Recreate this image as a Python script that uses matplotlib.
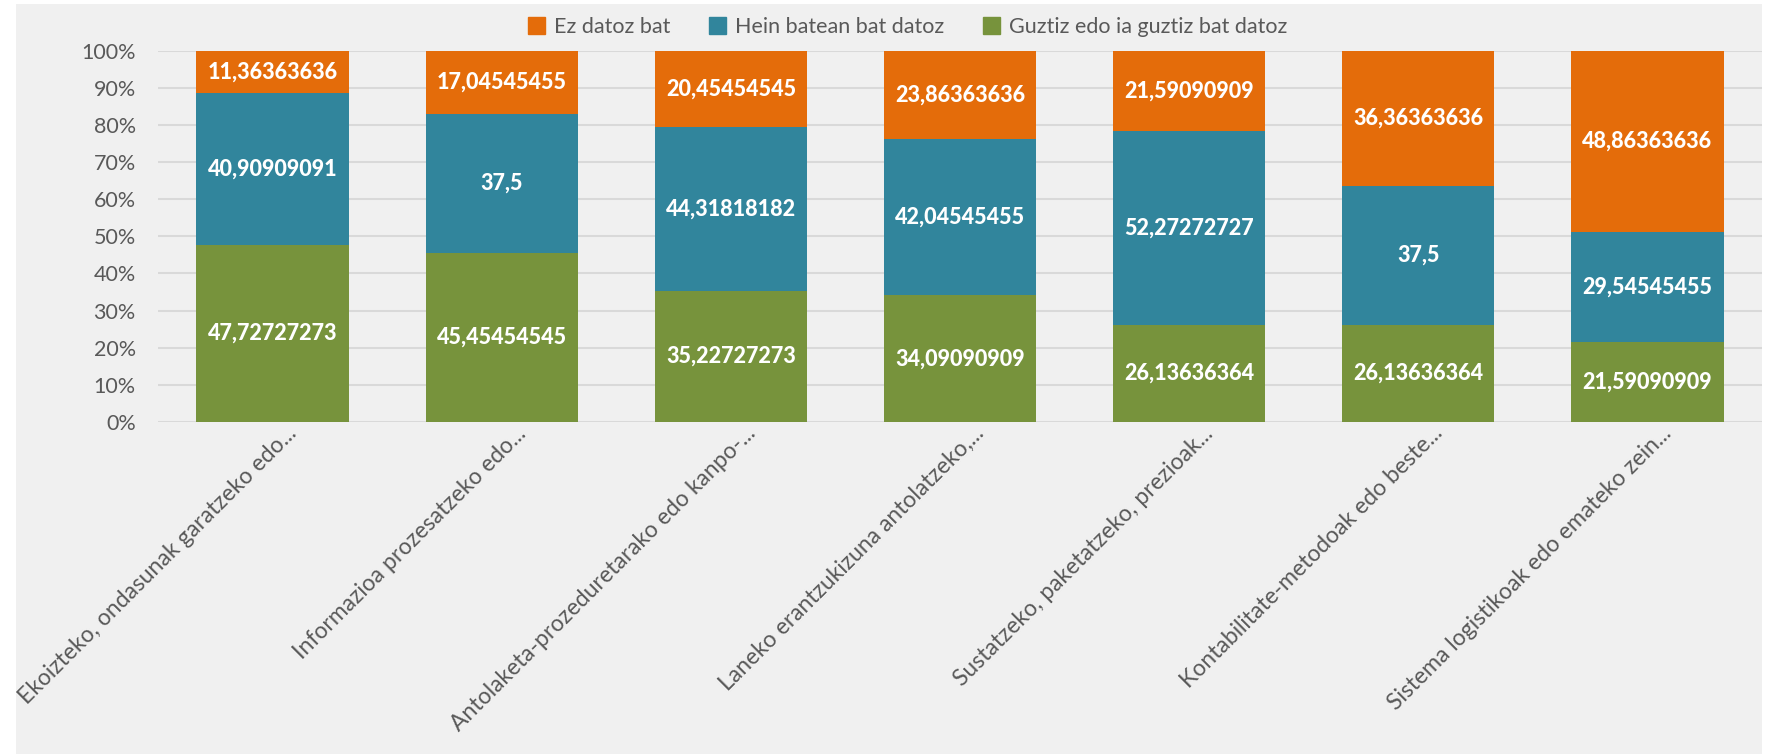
import matplotlib
matplotlib.use("Agg")
import matplotlib.pyplot as plt
from matplotlib.patches import Rectangle, Patch
from matplotlib.transforms import ScaledTranslation
import numpy as np

categories = [
    "Ekoizteko, ondasunak garatzeko edo...",
    "Informazioa prozesatzeko edo...",
    "Antolaketa-prozeduretarako edo kanpo-...",
    "Laneko erantzukizuna antolatzeko,...",
    "Sustatzeko, paketatzeko, prezioak...",
    "Kontabilitate-metodoak edo beste...",
    "Sistema logistikoak edo emateko zein...",
]
series_names = ["Ez datoz bat", "Hein batean bat datoz", "Guztiz edo ia guztiz bat datoz"]
guztiz = [47.72727273, 45.45454545, 35.22727273, 34.09090909, 26.13636364, 26.13636364, 21.59090909]
hein = [40.90909091, 37.5, 44.31818182, 42.04545455, 52.27272727, 37.5, 29.54545455]
ez = [11.36363636, 17.04545455, 20.45454545, 23.86363636, 21.59090909, 36.36363636, 48.86363636]
yticks = [0, 10, 20, 30, 40, 50, 60, 70, 80, 90, 100]

c_ez = "#E46C0A"
c_hein = "#31859C"
c_guz = "#77933C"
bg = "#F0F0F0"
txt = "#595959"
font = "Lato"

W, H = 1769, 754
fig = plt.figure(figsize=(W / 100, H / 100), dpi=100, facecolor="white")
fig.patches.append(Rectangle((16 / W, 0), (1762 - 16) / W, 1 - 4 / H,
                             transform=fig.transFigure, facecolor=bg, edgecolor="none", zorder=-10))

ax = fig.add_axes([158 / W, 1 - 422 / H, (1762 - 158) / W, (422 - 50.7) / H])
ax.set_facecolor("none")

x = np.arange(len(categories))
totals = np.array(guztiz) + np.array(hein) + np.array(ez)
g = np.array(guztiz) / totals
h = np.array(hein) / totals
e = np.array(ez) / totals
bw = 0.665
ax.bar(x, g, bw, color=c_guz, zorder=3)
ax.bar(x, h, bw, bottom=g, color=c_hein, zorder=3)
ax.bar(x, e, bw, bottom=g + h, color=c_ez, zorder=3)

def fmt(v):
    return format(v, ".10g").replace(".", ",")

for i in range(len(categories)):
    for vals, frac, bot in [(guztiz, g, 0), (hein, h, g), (ez, e, g + h)]:
        b = bot if np.isscalar(bot) else bot[i]
        ax.text(x[i], b + frac[i] / 2, fmt(vals[i]), ha="center", va="center",
                color="white", fontsize=15.5, fontweight="black", family=font, zorder=4)

ax.set_xlim(-0.5, len(categories) - 0.5)
ax.set_ylim(0, 1)
ax.set_yticks([t / 100 for t in yticks])
ax.set_yticklabels([f"{t}%" for t in yticks], fontsize=15.5, color=txt, family=font)
ax.grid(axis="y", color="#D9D9D9", linewidth=1.5, zorder=0)
ax.set_xticks(x)
ax.set_xticklabels([])
lbl_tr = ax.get_xaxis_transform() + ScaledTranslation(0.21, -0.08, fig.dpi_scale_trans)
for i, cat in enumerate(categories):
    ax.text(x[i], 0, cat, transform=lbl_tr, rotation=45, rotation_mode="anchor",
            ha="right", va="center", fontsize=16.5, color=txt, family=font, clip_on=False)
ax.tick_params(axis="both", length=0)
ax.tick_params(axis="y", pad=16)
for s in ax.spines.values():
    s.set_visible(False)

handles = [Patch(color=c_ez), Patch(color=c_hein), Patch(color=c_guz)]
fig.legend(handles, series_names, loc="center", bbox_to_anchor=(0.513, 1 - 27 / H),
           ncol=3, frameon=False, prop={"family": font, "size": 15.5},
           labelcolor=txt, handlelength=0.8, handleheight=0.8, handletextpad=0.4,
           columnspacing=1.8)

fig.savefig("out.png", dpi=100, facecolor="white")
